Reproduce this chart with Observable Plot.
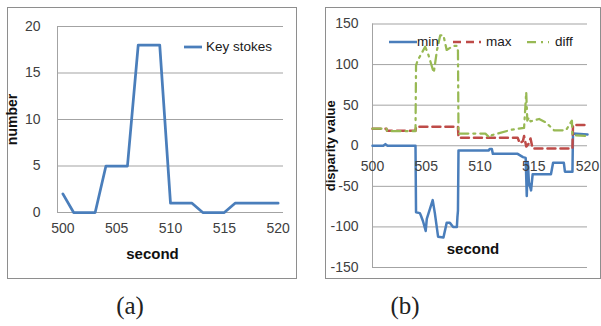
<!DOCTYPE html>
<html>
<head>
<meta charset="utf-8">
<script src="https://cdn.jsdelivr.net/npm/d3@7"></script>
<script src="https://cdn.jsdelivr.net/npm/@observablehq/plot@0.6"></script>
<style>
  html, body { margin: 0; padding: 0; background: #fff; }
  #root { position: relative; width: 601px; height: 326px; background: #fff; overflow: hidden;
          font-family: "Liberation Sans", Arial, sans-serif; }
  .frame { position: absolute; border: 1px solid #8e8e8e; box-sizing: border-box; }
  .abs { position: absolute; }
  .leg { position: absolute; font-size: 13.5px; color: #1a1a1a; line-height: 14px; white-space: nowrap; }
  .cap { position: absolute; font-family: "Liberation Serif", "DejaVu Serif", serif; font-size: 25px; color: #222; }
  #overlay { position: absolute; left: 0; top: 0; }
</style>
</head>
<body>
<div id="root">
  <div class="frame" style="left:7px;top:7px;width:290px;height:272px;"></div>
  <div class="frame" style="left:325px;top:7px;width:276px;height:272px;"></div>
  <div id="chartA" class="abs" style="left:0;top:0;"></div>
  <div id="chartB" class="abs" style="left:300px;top:0;"></div>
</div>
<script>
// ---------- chart (a) data ----------
const ksSecond = [500,501,502,503,504,505,506,507,508,509,510,511,512,513,514,515,516,517,518,519,520];
const ksCount  = [2,0,0,0,5,5,5,18,18,18,1,1,1,0,0,0,1,1,1,1,1];
const xTicksA = [500,505,510,515,520];
const yTicksA = [0,5,10,15,20];
const legendA = ["Key stokes"];
const captions = ["(a)", "(b)"];

// ---------- chart (b) data ----------
const minSec = [500,501.0,501.2,501.4,504.0,504.05,504.4,504.5,504.7,504.95,505.05,505.6,505.8,506.1,506.6,506.9,507.2,507.5,507.85,507.9,507.95,508.0,510.8,510.9,511.1,511.2,513.5,514.0,514.25,514.35,514.45,514.55,514.75,514.9,516.6,516.8,517.8,517.9,518.6,518.65,520];
const minVal = [0,0,2,0,0,-82,-83,-86,-93,-105,-90,-67,-83,-112,-113,-95,-95,-100,-100,-88,-80,-6,-6,-4,-4,-10,-10,-14,-15,-62,-20,-45,-55,-35,-35,-21,-21,-32,-32,15,14];
const maxSec = [500,501.3,501.35,504.0,504.05,507.95,508.0,513.5,513.7,514.0,514.1,514.3,514.5,514.7,514.9,518.6,518.65,520];
const maxVal = [21,21,18.5,18.5,23.5,23.5,10,10,3,6,12,-1,2,9,-3.5,-3.5,25.5,25.5];
const diffSec = [500,501.3,501.35,504.0,504.05,504.2,504.9,505.2,505.7,506.0,506.3,506.6,506.9,507.5,507.85,507.95,508.0,510.5,510.9,511.1,513.0,514.1,514.3,514.4,514.55,514.7,515.5,516.1,516.9,518.0,518.55,518.6,520];
const diffVal = [21,21,18,18,99,105,122,112,90,118,136,136,118,123,123,117,15,15,10,13,20,22,66,31,35,30,33,29,19,19,31,13,12];
const xTicksB = [500,505,510,515,520];
const yTicksB = [-150,-100,-50,0,50,100,150];
const legendB = ["min", "max", "diff"];

// ---------- styles ----------
const blue = "#4a7ebb", red = "#be4b48", green = "#98b954";
const grid = "#a3a3a3", tickColor = "#404040";
const font = "Liberation Sans, Arial, sans-serif";

const ks = ksSecond.map((x, i) => ({x, y: ksCount[i]}));
const mins = minSec.map((x, i) => ({x, y: minVal[i]}));
const maxs = maxSec.map((x, i) => ({x, y: maxVal[i]}));
const diffs = diffSec.map((x, i) => ({x, y: diffVal[i]}));

const xDomA = [499.5, 520.5];
const plotA = Plot.plot({
  width: 300, height: 280,
  marginLeft: 57, marginRight: 17, marginTop: 26, marginBottom: 68,
  x: {domain: xDomA, axis: null},
  y: {domain: [0, 20], axis: null},
  style: {fontFamily: font, fontSize: "14px", background: "transparent", overflow: "visible"},
  marks: [
    Plot.ruleY(yTicksA, {stroke: grid, strokeWidth: 1}),
    Plot.ruleX([xDomA[0]], {stroke: grid, strokeWidth: 1}),
    Plot.line(ks, {x: "x", y: "y", stroke: blue, strokeWidth: 2.75}),
    Plot.text(yTicksA, {y: d => d, frameAnchor: "left", dx: -17, textAnchor: "end", text: d => String(d), fill: tickColor, fontSize: 14}),
    Plot.text(xTicksA, {x: d => d, frameAnchor: "bottom", dy: 20, text: d => String(d), fill: tickColor, fontSize: 14}),
    Plot.text(["number"], {frameAnchor: "left", dx: -45, rotate: -90, textAnchor: "middle", text: d => d, fontWeight: "bold", fontSize: 14, fill: "#111"}),
    Plot.text(["second"], {frameAnchor: "bottom", dx: -18, dy: 46, textAnchor: "middle", text: d => d, fontWeight: "bold", fontSize: 15, fill: "#111"})
  ]
});
document.getElementById("chartA").appendChild(plotA);

const xDomB = [500, 520];
const plotB = Plot.plot({
  width: 301, height: 280,
  marginLeft: 72, marginRight: 14, marginTop: 23.5, marginBottom: 13,
  x: {domain: xDomB, axis: null},
  y: {domain: [-150, 150], axis: null},
  style: {fontFamily: font, fontSize: "14px", background: "transparent", overflow: "visible"},
  marks: [
    Plot.ruleY(yTicksB, {stroke: grid, strokeWidth: 1}),
    Plot.ruleX([xDomB[0]], {stroke: grid, strokeWidth: 1}),
    Plot.line(mins, {x: "x", y: "y", stroke: blue, strokeWidth: 2.5}),
    Plot.line(maxs, {x: "x", y: "y", stroke: red, strokeWidth: 2.5, strokeDasharray: "8,5"}),
    Plot.line(diffs, {x: "x", y: "y", stroke: green, strokeWidth: 2.25, strokeDasharray: "9,5,2,5"}),
    Plot.text(yTicksB, {y: d => d, frameAnchor: "left", dx: -14, textAnchor: "end", text: d => String(d), fill: tickColor, fontSize: 14}),
    Plot.text(xTicksB, {x: d => d, y: 0, dy: 21, text: d => String(d), fill: tickColor, fontSize: 14}),
    Plot.text(["disparity value"], {frameAnchor: "left", dx: -42, rotate: -90, textAnchor: "middle", text: d => d, fontWeight: "bold", fontSize: 13, fill: "#111"}),
    Plot.text(["second"], {frameAnchor: "bottom", dx: -7, dy: -14, textAnchor: "middle", text: d => d, fontWeight: "bold", fontSize: 15, fill: "#111"})
  ]
});
document.getElementById("chartB").appendChild(plotB);

// ---------- legends & captions (HTML) ----------
const root = document.getElementById("root");
const swatches = [
  {x1: 184, x2: 202, y: 47, color: blue, dash: "", sw: 2.75},
  {x1: 389, x2: 417, y: 42, color: blue, dash: "", sw: 2.5},
  {x1: 453, x2: 481, y: 42, color: red, dash: "8,5", sw: 2.5},
  {x1: 527, x2: 549, y: 42, color: green, dash: "9,5,2,5", sw: 2.25}
];
let svgStr = '<svg id="overlay" width="601" height="326" xmlns="http://www.w3.org/2000/svg">';
for (const s of swatches) {
  svgStr += `<line x1="${s.x1}" x2="${s.x2}" y1="${s.y}" y2="${s.y}" stroke="${s.color}" stroke-width="${s.sw}"${s.dash ? ` stroke-dasharray="${s.dash}"` : ""}/>`;
}
svgStr += '</svg>';
root.insertAdjacentHTML("beforeend", svgStr);

function label(left, top, text) {
  const d = document.createElement("div");
  d.className = "leg"; d.textContent = text;
  d.style.left = left + "px"; d.style.top = (top - 7) + "px";
  root.appendChild(d);
}
label(206, 47, legendA[0]);
label(417, 42, legendB[0]);
label(486, 42, legendB[1]);
label(555, 42, legendB[2]);

function cap(cx, cy, text) {
  const d = document.createElement("div");
  d.className = "cap"; d.textContent = text;
  root.appendChild(d);
  const r = d.getBoundingClientRect();
  d.style.left = (cx - r.width / 2) + "px";
  d.style.top = (cy - r.height / 2) + "px";
}
cap(130, 306, captions[0]);
cap(405, 306, captions[1]);
</script>
</body>
</html>
